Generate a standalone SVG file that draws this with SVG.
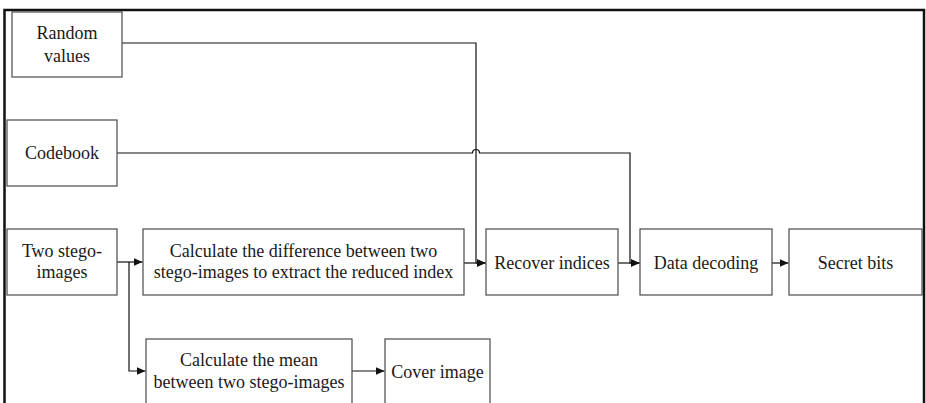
<svg xmlns="http://www.w3.org/2000/svg" width="926" height="403" viewBox="0 0 926 403">
  <style>
    .box { fill: #ffffff; stroke: #4a4a4a; stroke-width: 1.2; }
    .lbl { font-family: 'Liberation Serif', 'Tinos', 'DejaVu Serif', 'Noto Serif', serif; font-size: 18px; fill: #1a1a1a; text-anchor: middle; }
    .wire { fill: none; stroke: #111111; stroke-width: 1.2; }
    .frame { fill: none; stroke: #111111; stroke-width: 2.5; }
  </style>
  <defs>
    <marker id="arrow" markerUnits="userSpaceOnUse" markerWidth="10" markerHeight="8" refX="9" refY="4" orient="auto">
      <path d="M0,0 L9,4 L0,8 Z" fill="#111111"/>
    </marker>
  </defs>

  <rect x="0" y="0" width="926" height="403" fill="#ffffff"/>
  <!-- outer frame, open at the bottom -->
  <path class="frame" d="M4.5,403 V10 H924 V403"/>

  <!-- connectors -->
  <g id="connectors">
    <path class="wire" d="M122,43 H476 V263 H485.5" marker-end="url(#arrow)"/>
    <path class="wire" d="M117,153 H472.5 A3.5,3.5 0 0 1 479.5,153 H630 V263 H639.5" marker-end="url(#arrow)"/>
    <path class="wire" d="M117,262 H142.5" marker-end="url(#arrow)"/>
    <path class="wire" d="M129,262 V371 H145.5" marker-end="url(#arrow)"/>
    <path class="wire" d="M464,263 H485.5" marker-end="url(#arrow)"/>
    <path class="wire" d="M618,263 H639.5" marker-end="url(#arrow)"/>
    <path class="wire" d="M772,263 H788.5" marker-end="url(#arrow)"/>
    <path class="wire" d="M352,371 H384.5" marker-end="url(#arrow)"/>
  </g>

  <!-- nodes -->
  <g id="random-values">
    <rect class="box" x="12" y="12" width="110" height="65"/>
    <text class="lbl" x="67" y="39">Random</text>
    <text class="lbl" x="67" y="62">values</text>
  </g>
  <g id="codebook">
    <rect class="box" x="7" y="120" width="110" height="66"/>
    <text class="lbl" x="62" y="159">Codebook</text>
  </g>
  <g id="two-stego-images">
    <rect class="box" x="7" y="229" width="110" height="66"/>
    <text class="lbl" x="62" y="257">Two stego-</text>
    <text class="lbl" x="62" y="278">images</text>
  </g>
  <g id="calc-difference">
    <rect class="box" x="143" y="229" width="321" height="66"/>
    <text class="lbl" x="303.5" y="257">Calculate the difference between two</text>
    <text class="lbl" x="303.5" y="278">stego-images to extract the reduced index</text>
  </g>
  <g id="recover-indices">
    <rect class="box" x="486" y="229" width="132" height="66"/>
    <text class="lbl" x="552" y="269">Recover indices</text>
  </g>
  <g id="data-decoding">
    <rect class="box" x="640" y="229" width="132" height="66"/>
    <text class="lbl" x="706" y="269">Data decoding</text>
  </g>
  <g id="secret-bits">
    <rect class="box" x="789" y="229" width="133" height="66"/>
    <text class="lbl" x="855.5" y="269">Secret bits</text>
  </g>
  <g id="calc-mean">
    <rect class="box" x="146" y="339" width="206" height="80"/>
    <text class="lbl" x="249" y="366">Calculate the mean</text>
    <text class="lbl" x="249" y="388">between two stego-images</text>
  </g>
  <g id="cover-image">
    <rect class="box" x="385" y="339" width="105" height="80"/>
    <text class="lbl" x="437.5" y="378">Cover image</text>
  </g>
</svg>
